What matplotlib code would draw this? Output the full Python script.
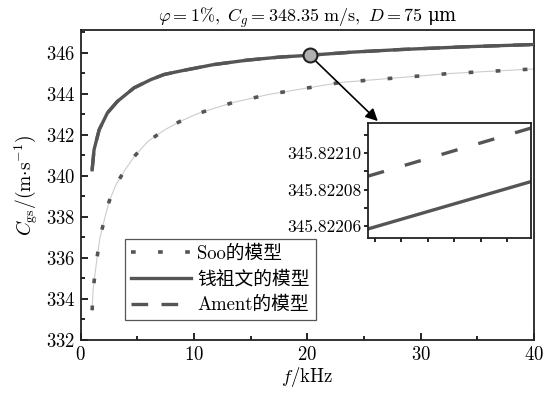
import matplotlib
matplotlib.use("Agg")
import matplotlib.pyplot as plt
from matplotlib.ticker import MultipleLocator, FormatStrFormatter

f_qian = [1, 1.17, 1.62, 2.35, 3.23, 4.7, 6.18, 7.35, 8.8, 11.7, 14.7, 17.6, 20, 24, 28.4, 34, 40]
c_qian = [340.29, 341.27, 342.24, 343.06, 343.62, 344.28, 344.68, 344.93, 345.1, 345.41,
          345.63, 345.78, 345.86, 346.02, 346.15, 346.28, 346.39]
c_ament = [340.29, 341.27, 342.24, 343.06, 343.62, 344.28, 344.68, 344.93, 345.1, 345.41,
           345.63, 345.78, 345.86, 346.02, 346.15, 346.28, 346.39]

f_soo = [1, 1.08, 1.26, 1.47, 1.7, 2.1, 2.5, 3.1, 3.9, 4.8, 5.9, 7.3, 8.7, 10.3, 11.7,
         13.4, 15.0, 16.5, 22.9, 32.6, 39.0, 40]
c_soo = [333.45, 334.4, 335.25, 336.15, 337.0, 337.9, 338.75, 339.56, 340.29, 340.99, 341.66,
         342.2, 342.63, 343.02, 343.27, 343.56, 343.76, 343.95, 344.54, 344.98, 345.17, 345.2]

# zoomed view around f = 20 kHz
f_zoom = [19.99974, 20.00591]
c_zoom_qian = [345.8220583, 345.8220844]
c_zoom_ament = [345.8220874, 345.8221139]
marker_f, marker_c = 20.2, 345.87

labels = ["Soo的模型", "钱祖文的模型", "Ament的模型"]

plt.rcParams["font.family"] = ["cmr10", "Noto Sans CJK SC"]
plt.rcParams["mathtext.fontset"] = "cm"
plt.rcParams["axes.formatter.use_mathtext"] = True
plt.rcParams["font.size"] = 13.5

col = "#555555"
fig = plt.figure(figsize=(5.46, 3.97), dpi=100)
ax = fig.add_axes([0.148, 0.1436, 0.830, 0.781])

ax.plot(f_soo, c_soo, color="#cccccc", lw=0.8, zorder=2)
ax.plot(f_soo, c_soo, color=col, lw=2.6, ls=(0, (1.3, 6.2)), label=labels[0], zorder=3)
ax.plot(f_qian, c_ament, color=col, lw=2.4, ls=(0, (5, 4)), zorder=3)
ax.plot(f_qian, c_qian, color=col, lw=2.4, label=labels[1], zorder=4)
ax.plot([], [], color=col, lw=2.4, ls=(0, (5, 4)), label=labels[2])

ax.set_xlim(0, 40)
ax.set_ylim(332, 347.1)
ax.xaxis.set_major_locator(MultipleLocator(10))
ax.xaxis.set_minor_locator(MultipleLocator(5))
ax.yaxis.set_major_locator(MultipleLocator(2))
ax.yaxis.set_minor_locator(MultipleLocator(1))
ax.tick_params(which="both", direction="in", top=False, right=False, pad=4)
ax.tick_params(which="major", length=5, width=1.2)
ax.tick_params(which="minor", length=3, width=1.2)
for s in ax.spines.values():
    s.set_linewidth(1.3)
    s.set_color("#222222")

ax.set_xlabel(r"$f$/kHz", labelpad=1)
ax.set_ylabel(r"$C_{\rm gs}/(\mathrm{m{\cdot}s^{-1}})$", labelpad=4, fontsize=14)
# cmr10 has no usable μ, so the title's plain text goes through DejaVu Serif
ax.set_title(r"$\varphi=1\%,\ C_g=348.35\ \mathrm{m/s},\ D=75$ μm", pad=5, fontsize=13,
             family=["DejaVu Serif"])

leg = ax.legend(loc="lower left", bbox_to_anchor=(0.098, 0.065), borderaxespad=0,
                fancybox=False, edgecolor="#555555", framealpha=1, handlelength=3.2,
                handletextpad=0.35, labelspacing=0.42, borderpad=0.3)
leg.get_frame().set_linewidth(0.9)

# marker + arrow to the inset
ax.annotate("", xy=(0.692, 0.695), xycoords="figure fraction",
            xytext=(marker_f, marker_c), textcoords="data",
            arrowprops=dict(arrowstyle="-|>", color="black", lw=1.2,
                            mutation_scale=18, shrinkA=0, shrinkB=0), zorder=5)
ax.plot([marker_f], [marker_c], "o", ms=10, mfc="#b0b0b0", mec="#222222", mew=1.5, zorder=6)

ins = fig.add_axes([0.674, 0.4005, 0.2985, 0.2897])
ins.plot(f_zoom, c_zoom_ament, color=col, lw=2.4, ls=(0, (5, 6.5)))
ins.plot(f_zoom, c_zoom_qian, color=col, lw=2.4)
ins.set_xlim(f_zoom)
ins.set_ylim(345.8220533, 345.8221167)
ins.xaxis.set_major_locator(MultipleLocator(0.001))
ins.yaxis.set_major_locator(MultipleLocator(0.00002))
ins.yaxis.set_minor_locator(MultipleLocator(0.00001))
ins.yaxis.set_major_formatter(FormatStrFormatter("%.5f"))
ins.set_xticklabels([])
ins.tick_params(which="both", direction="out", length=3, width=1.2, labelsize=12.5, pad=2)
for s in ins.spines.values():
    s.set_linewidth(1.3)
    s.set_color("#222222")

fig.savefig("out.png", dpi=100)
